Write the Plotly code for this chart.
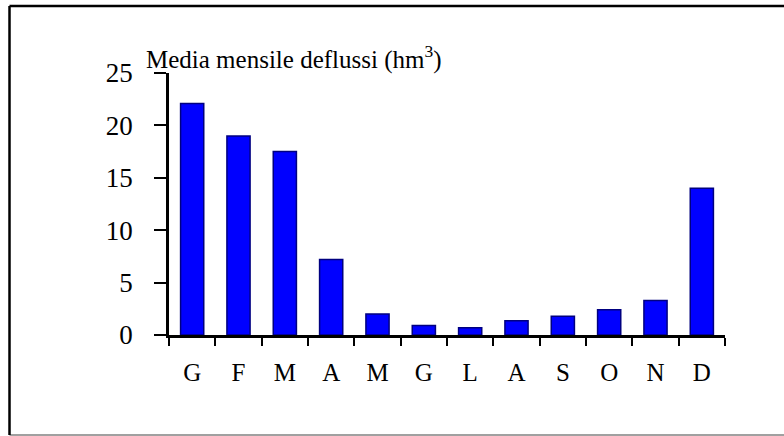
import plotly.graph_objects as go

months = ["Gennaio", "Febbraio", "Marzo", "Aprile", "Maggio", "Giugno",
          "Luglio", "Agosto", "Settembre", "Ottobre", "Novembre", "Dicembre"]
month_labels = ["G", "F", "M", "A", "M", "G", "L", "A", "S", "O", "N", "D"]
deflussi = [22.1, 19.0, 17.5, 7.2, 2.0, 0.9, 0.7, 1.35, 1.8, 2.4, 3.3, 14.0]
y_ticks = [0, 5, 10, 15, 20, 25]

FONT = "Liberation Serif, Times New Roman, serif"

fig = go.Figure(go.Bar(
    x=months, y=deflussi,
    marker=dict(color="#0000FF", line=dict(color="#000080", width=1.5)),
))

W, H = 784, 436
L, R, T, B = 169, 59, 73, 101
pw, ph = W - L - R, H - T - B

def px(x):
    return (x - L) / pw

def py(y):
    return (H - B - y) / ph

fig.update_layout(
    width=W, height=H,
    margin=dict(l=L, r=R, t=T, b=B),
    paper_bgcolor="white", plot_bgcolor="white",
    bargap=0.5,
    showlegend=False,
    font=dict(family=FONT, color="black"),
    title=dict(text="Media mensile deflussi (hm<sup>3</sup>)",
               font=dict(family=FONT, size=25, color="black"),
               x=146 / W, xref="container", xanchor="left",
               y=1 - 59 / H, yref="container", yanchor="middle"),
    xaxis=dict(type="category", tickmode="array", tickvals=months, ticktext=month_labels,
               tickson="boundaries", ticks="outside", ticklen=8, tickwidth=2,
               tickcolor="black", showline=True, linecolor="black", linewidth=2.5,
               showgrid=False, zeroline=False, ticklabelstandoff=13,
               tickfont=dict(family=FONT, size=25, color="black")),
    yaxis=dict(range=[0, 25], tickmode="array", tickvals=y_ticks,
               ticks="outside", ticklen=12, tickwidth=2, tickcolor="black",
               showline=True, linecolor="black", linewidth=2.5,
               showgrid=False, zeroline=False, ticklabelstandoff=16,
               tickfont=dict(family=FONT, size=27, color="black")),
    shapes=[
        dict(type="line", xref="paper", yref="paper", x0=px(9.5), x1=px(800),
             y0=py(6), y1=py(6), line=dict(color="black", width=2.5)),
        dict(type="line", xref="paper", yref="paper", x0=px(9.5), x1=px(800),
             y0=py(435), y1=py(435), line=dict(color="#808080", width=1.5)),
        dict(type="line", xref="paper", yref="paper", x0=px(9.5), x1=px(9.5),
             y0=py(6), y1=py(435), line=dict(color="black", width=2.5)),
    ],
)

fig.write_html("out.html", config={"displayModeBar": False},
               post_script="document.body.style.margin='0';document.body.style.overflow='hidden';")
